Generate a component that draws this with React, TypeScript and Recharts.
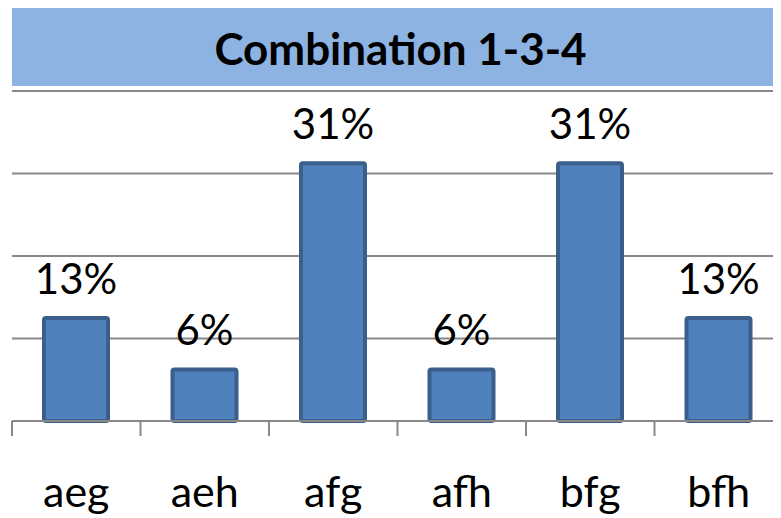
import React from "react";
import { BarChart, Bar, XAxis, YAxis, CartesianGrid, LabelList } from "recharts";

const title = "Combination 1-3-4";
const categories = ["aeg", "aeh", "afg", "afh", "bfg", "bfh"];
const values = [0.125, 0.0625, 0.3125, 0.0625, 0.3125, 0.125];
const yTicks = [0, 0.1, 0.2, 0.3, 0.4];

const data = categories.map((c, i) => ({ name: c, value: values[i] }));

const CHART_W = 780;
const CHART_H = 432;
const MARGIN = { top: 5, right: 5, left: 4, bottom: 0 };
const PLOT_W = CHART_W - MARGIN.left - MARGIN.right;
const BAND = PLOT_W / categories.length;
const FONT = "Lato, 'Open Sans', sans-serif";

const Tick = (props: any) => {
  const { x, y, payload, index } = props;
  const left = x - BAND / 2;
  const right = x + BAND / 2;
  return (
    <g>
      <line x1={left} x2={left} y1={y} y2={y + 15} stroke="#888888" strokeWidth={2} />
      {index === categories.length - 1 && (
        <line x1={right} x2={right} y1={y} y2={y + 15} stroke="#888888" strokeWidth={2} />
      )}
      <text x={x} y={y + 86} textAnchor="middle" fontFamily={FONT} fontSize={43} fill="#000">
        {payload.value}
      </text>
    </g>
  );
};

const renderLabel = (props: any) => {
  const { x, y, width, value } = props;
  return (
    <text x={x + width / 2} y={y - 24} textAnchor="middle" fontFamily={FONT} fontSize={42} fill="#000">
      {Math.round(value * 100) + "%"}
    </text>
  );
};

export default function App() {
  return (
    <div style={{ width: 773, overflow: "hidden" }}>
      <div
        style={{
          marginLeft: 4,
          height: 78,
          background: "#8DB3E2",
          display: "flex",
          alignItems: "center",
          justifyContent: "center",
          fontFamily: FONT,
          fontWeight: 700,
          fontSize: 44,
          color: "#000",
          width: 777,
          boxSizing: "border-box",
          paddingTop: 2,
        }}
      >
        {title}
      </div>
      <BarChart width={CHART_W} height={CHART_H} data={data} margin={MARGIN}>
        <CartesianGrid vertical={false} stroke="#888888" strokeWidth={2} />
        <YAxis hide domain={[0, 0.4]} ticks={yTicks} />
        <XAxis
          dataKey="name"
          axisLine={{ stroke: "#888888", strokeWidth: 2 }}
          tickLine={false}
          tickSize={0}
          tickMargin={0}
          height={97}
          interval={0}
          tick={<Tick />}
        />
        <Bar dataKey="value" fill="#4F81BD" stroke="#3A5F8B" strokeWidth={4} barSize={64} radius={2} isAnimationActive={false}>
          <LabelList dataKey="value" content={renderLabel} />
        </Bar>
      </BarChart>
    </div>
  );
}
